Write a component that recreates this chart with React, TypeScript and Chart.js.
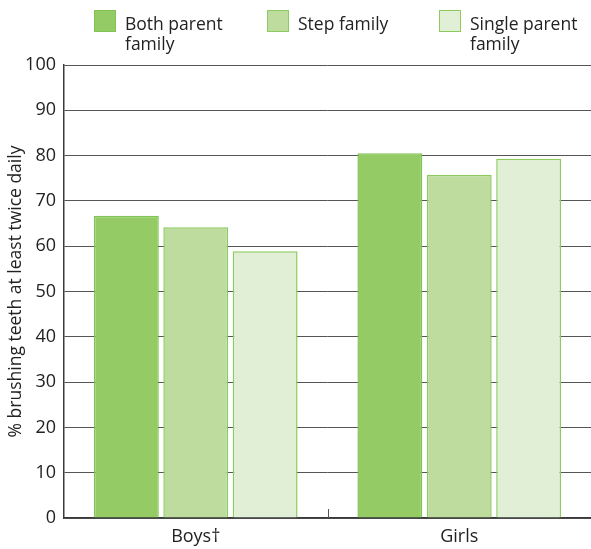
import React, { useEffect, useRef } from "react";
import { Chart, registerables } from "chart.js";

Chart.register(...registerables);

const categories = ["Boys\u2020", "Girls"];
const seriesNames = [["Both parent", "family"], ["Step family"], ["Single parent", "family"]];
const bothParent = [66.7, 80.5];
const stepFamily = [64.2, 75.8];
const singleParent = [58.9, 79.3];
const fills = ["#95CB65", "#BDDC9D", "#E1EFD6"];
const borders = ["#80C454", "#8CCB60", "#8CCB5C"];
const yTitle = "% brushing teeth at least twice daily";
const FONT = "'Open Sans', sans-serif";

const midTickPlugin = {
  id: "midTick",
  afterDraw(chart: any) {
    const x = chart.scales.x;
    const bottom = chart.chartArea.bottom;
    const ctx = chart.ctx;
    ctx.save();
    ctx.strokeStyle = "#555";
    ctx.lineWidth = 1;
    for (let i = 0; i < categories.length - 1; i++) {
      const px = Math.round((x.getPixelForValue(i) + x.getPixelForValue(i + 1)) / 2) + 0.5;
      ctx.beginPath();
      ctx.moveTo(px, bottom);
      ctx.lineTo(px, bottom - 9);
      ctx.stroke();
    }
    ctx.restore();
  },
};

export default function App() {
  const ref = useRef<HTMLCanvasElement>(null);
  useEffect(() => {
    document.body.style.margin = "0";
    const values = [bothParent, stepFamily, singleParent];
    const chart = new Chart(ref.current!, {
      type: "bar",
      data: {
        labels: categories,
        datasets: values.map((v, i) => ({
          label: seriesNames[i].join(" "),
          data: v,
          backgroundColor: fills[i],
          borderColor: borders[i],
          borderWidth: 1.5,
          categoryPercentage: 0.79,
          barPercentage: 0.935,
        })),
      },
      options: {
        responsive: false,
        animation: false,
        layout: { padding: { top: 65, bottom: 0, right: 0, left: 0 } },
        plugins: { legend: { display: false }, tooltip: { enabled: false } },
        scales: {
          x: {
            grid: { display: false, drawTicks: false },
            border: { color: "#3a3a3a", width: 1.5 },
            ticks: { color: "#222", font: { family: FONT, size: 18 }, padding: 8 },
            afterFit: (s: any) => {
              s.height = 31;
            },
          },
          y: {
            min: 0,
            max: 100,
            ticks: { stepSize: 10, color: "#222", font: { family: FONT, size: 18 }, padding: 8 },
            grid: { color: "#555", lineWidth: 1, drawTicks: false },
            border: { color: "#3a3a3a", width: 1.5 },
            title: {
              display: true,
              text: yTitle,
              color: "#222",
              font: { family: FONT, size: 17.5 },
              padding: { top: 6, bottom: 2 },
            },
            afterFit: (s: any) => {
              s.width = 64;
            },
          },
        },
      },
      plugins: [midTickPlugin],
    });
    return () => chart.destroy();
  }, []);

  const legendLeft = [94, 267, 439];
  return (
    <div style={{ position: "relative", width: 591, height: 549, fontFamily: FONT, overflow: "hidden" }}>
      <canvas ref={ref} width={591} height={549} style={{ display: "block" }} />
      {seriesNames.map((name, i) => (
        <div
          key={i}
          style={{ position: "absolute", left: legendLeft[i], top: 10, display: "flex", alignItems: "flex-start" }}
        >
          <div
            style={{
              width: 20,
              height: 20,
              background: fills[i],
              border: `1.5px solid ${borders[i]}`,
              flex: "none",
            }}
          />
          <div style={{ marginLeft: 9, marginTop: 3, fontSize: 17.5, lineHeight: "20px", color: "#222" }}>
            {name.map((l, j) => (
              <div key={j}>{l}</div>
            ))}
          </div>
        </div>
      ))}
    </div>
  );
}
